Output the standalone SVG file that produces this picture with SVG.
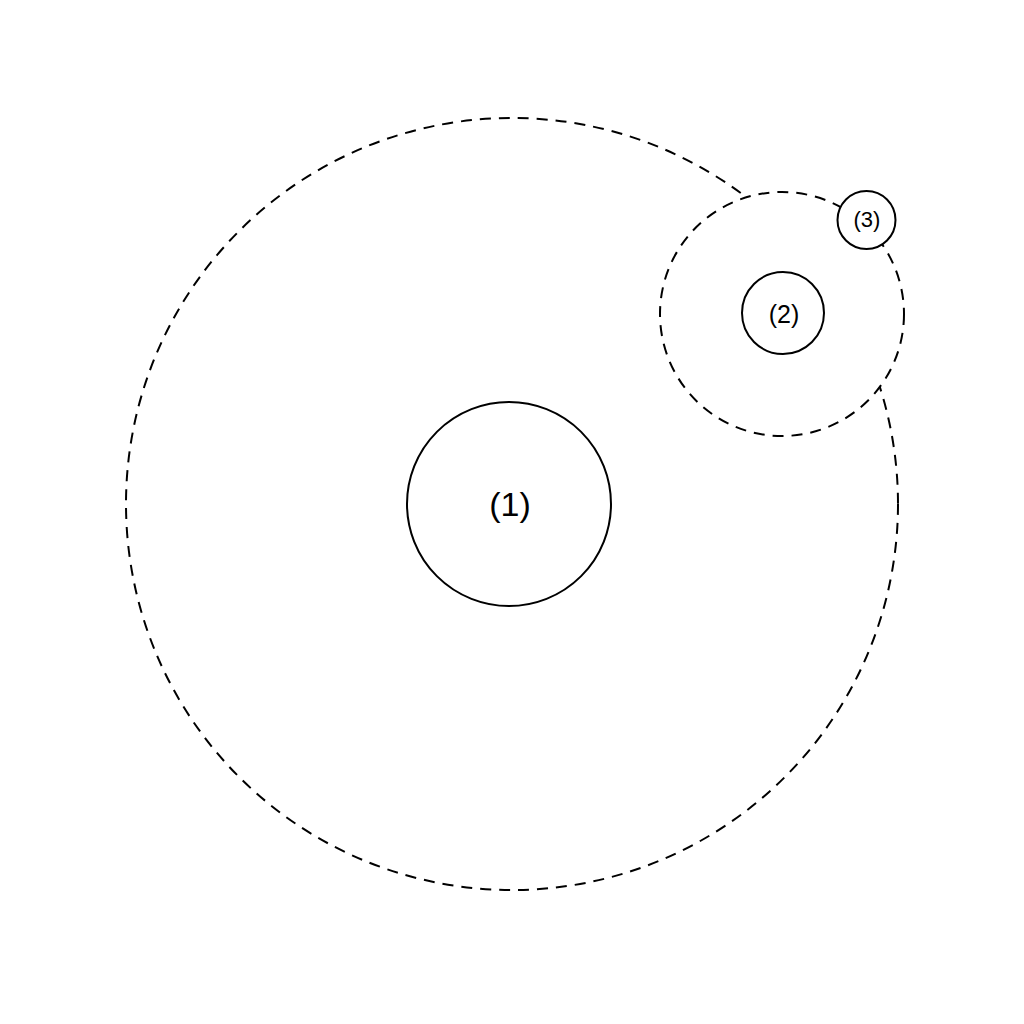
<svg xmlns="http://www.w3.org/2000/svg" width="1024" height="1024" viewBox="0 0 1024 1024">
<style>
.dash{fill:#fff;stroke:#000;stroke-width:2;stroke-dasharray:11 8}
.solid{fill:#fff;stroke:#000;stroke-width:2}
text{font-family:"Liberation Sans",Arial,sans-serif;fill:#000;text-anchor:middle;dominant-baseline:central}
</style>
<rect width="1024" height="1024" fill="#fff"/>
<g id="orbit1"><circle class="dash" cx="512" cy="504" r="386"/></g>
<g id="orbit2"><circle class="dash" cx="782" cy="314" r="122"/></g>
<g id="node1"><circle class="solid" cx="509" cy="504" r="102"/><text x="510" y="504" font-size="34">(1)</text></g>
<g id="node2"><circle class="solid" cx="783" cy="313" r="41"/><text x="784" y="314" font-size="25">(2)</text></g>
<g id="node3"><circle class="solid" cx="866.5" cy="220" r="29"/><text x="867" y="219" font-size="22">(3)</text></g>
<g id="connectors"></g>
</svg>
